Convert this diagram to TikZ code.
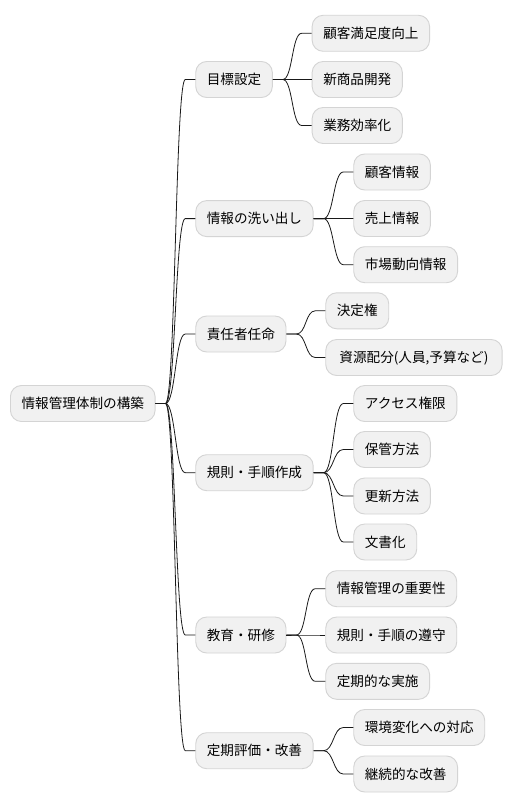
\documentclass[tikz,border=0pt]{standalone}
\usepackage{fontspec}
\setmainfont{Noto Sans CJK JP}
\usetikzlibrary{calc}
\definecolor{boxfill}{HTML}{F1F1F1}
\definecolor{boxline}{HTML}{D4D4D4}
\tikzset{
  mm/.style={draw=boxline, fill=boxfill, line width=0.9pt, rounded corners=11pt,
    anchor=west, minimum height=36pt, inner xsep=11.1pt, inner ysep=0pt,
    text height=11.2pt, text depth=1.2pt,
    font=\fontsize{13.6pt}{16pt}\selectfont, text=black},
  conn/.style={draw=black!90, line width=0.8pt,
    to path={-- ([xshift=10pt]\tikztostart) .. controls ([xshift=20pt]\tikztostart) and ([xshift=-20pt]\tikztotarget) .. ([xshift=-10pt]\tikztotarget) -- (\tikztotarget)}}
}
\begin{document}
\begin{tikzpicture}[x=1pt,y=1pt]
\useasboundingbox (0,0) rectangle (512,-808);
\fill[white] (0,0) rectangle (512,-808);
% root
\node[mm] (root) at (10,-403.5) {情報管理体制の構築};
% level 1
\node[mm] (a) at (195.3,-79.5) {目標設定};
\node[mm] (b) at (195.3,-218.6) {情報の洗い出し};
\node[mm] (c) at (195.3,-334) {責任者任命};
\node[mm] (d) at (195.3,-472.7) {規則・手順作成};
\node[mm] (e) at (195.3,-635) {教育・研修};
\node[mm] (f) at (195.3,-750.7) {定期評価・改善};
% level 2
\node[mm] (a1) at (311.7,-33.3) {顧客満足度向上};
\node[mm] (a2) at (311.7,-79.5) {新商品開発};
\node[mm] (a3) at (311.7,-125.5) {業務効率化};
\node[mm] (b1) at (353.3,-172) {顧客情報};
\node[mm] (b2) at (353.3,-218.5) {売上情報};
\node[mm] (b3) at (353.3,-264.7) {市場動向情報};
\node[mm] (c1) at (325.3,-310.8) {決定権};
\node[mm, minimum width=176.4pt] (c2) at (325.3,-357.5) {資源配分(人員,予算など)};
\node[mm] (d1) at (353.3,-403.5) {アクセス権限};
\node[mm] (d2) at (353.3,-449.5) {保管方法};
\node[mm] (d3) at (353.3,-496) {更新方法};
\node[mm] (d4) at (353.3,-542) {文書化};
\node[mm] (e1) at (325.3,-588.7) {情報管理の重要性};
\node[mm] (e2) at (325.3,-635) {規則・手順の遵守};
\node[mm] (e3) at (325.3,-681.3) {定期的な実施};
\node[mm] (f1) at (353.3,-727.5) {環境変化への対応};
\node[mm] (f2) at (353.3,-774) {継続的な改善};
% connectors
\foreach \p/\c in {root/a,root/b,root/c,root/d,root/e,root/f,
  a/a1,a/a2,a/a3,b/b1,b/b2,b/b3,c/c1,c/c2,d/d1,d/d2,d/d3,d/d4,e/e1,e/e2,e/e3,f/f1,f/f2}
  \draw[conn] (\p.east) to (\c.west);
\end{tikzpicture}
\end{document}
